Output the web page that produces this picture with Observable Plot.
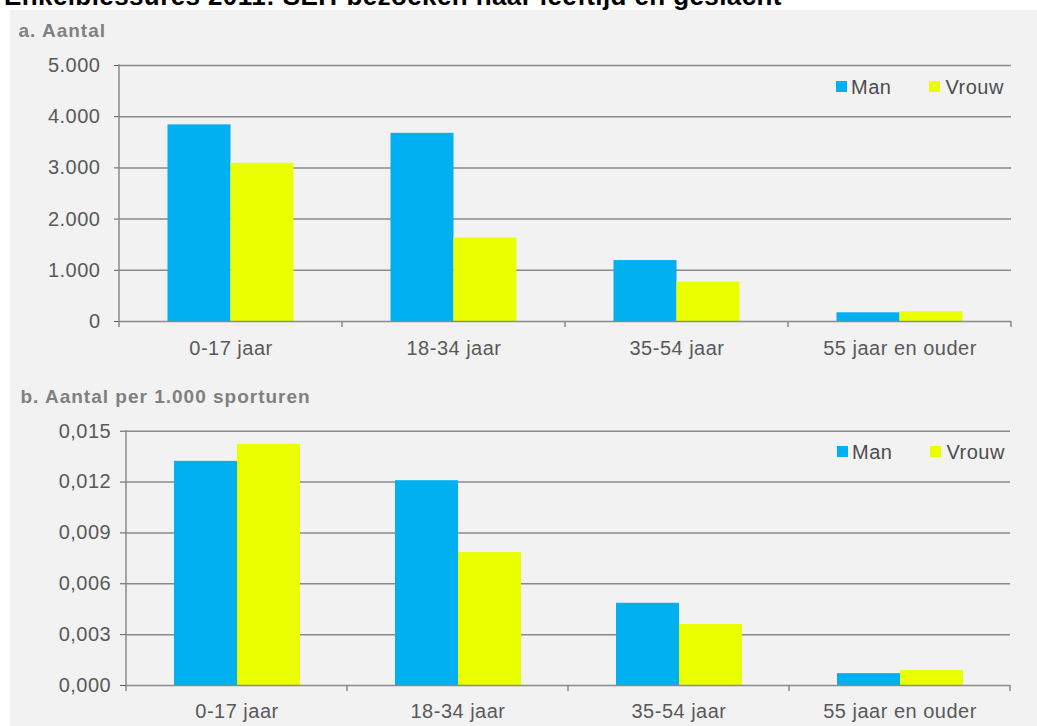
<!DOCTYPE html>
<html>
<head>
<meta charset="utf-8">
<script src="https://cdn.jsdelivr.net/npm/d3@7"></script>
<script src="https://cdn.jsdelivr.net/npm/@observablehq/plot@0.6"></script>
<style>
  html, body { margin: 0; padding: 0; background: #ffffff; }
  body { width: 1037px; height: 726px; position: relative; overflow: hidden;
         font-family: "Liberation Sans", Arial, sans-serif; }
  #title { position: absolute; left: 4px; top: -17px; font-size: 26px; line-height: 26px;
           font-weight: bold; color: #000; letter-spacing: 0.4px; white-space: nowrap; }
  #panel { position: absolute; left: 10px; top: 10px; right: 0; bottom: 0; background: #f2f2f2; }
  .head { position: absolute; font-size: 19px; line-height: 19px; font-weight: bold;
          color: #808080; letter-spacing: 1px; white-space: nowrap; }
  .chart { position: absolute; left: 0; }
  .chart svg text { letter-spacing: 0.5px; }
  .chart g[aria-label="y-axis tick"] { stroke: #8a8a8a; }
  .legend { position: absolute; display: flex; align-items: center; height: 20px;
            font-size: 20px; line-height: 20px; color: #4d4d4d; letter-spacing: 0.5px; }
  .legend .sw { display: inline-block; width: 11px; height: 11px; margin-right: 4px; }
  .legend .item { display: flex; align-items: center; }
</style>
</head>
<body>
<div id="title">Enkelblessures 2011: SEH-bezoeken naar leeftijd en geslacht</div>
<div id="panel"></div>
<div class="head" style="left:18.5px; top:21px;">a. Aantal</div>
<div class="chart" id="chartA" style="top:45px;"></div>
<div class="legend" id="legendA" style="left:836px; top:76.5px;"></div>
<div class="head" style="left:20.5px; top:387px;">b. Aantal per 1.000 sporturen</div>
<div class="chart" id="chartB" style="top:410px;"></div>
<div class="legend" id="legendB" style="left:837px; top:441.7px;"></div>
<script>
// Age groups and sexes
const ageGroups = ["0-17 jaar", "18-34 jaar", "35-54 jaar", "55 jaar en ouder"];
const sexes = ["Man", "Vrouw"];
const sexColors = ["#00b0f0", "#eaff00"];

// a. Number of emergency department visits
const countMan = [3840, 3675, 1190, 170];
const countVrouw = [3090, 1630, 770, 190];
const countTicks = [0, 1000, 2000, 3000, 4000, 5000];

// b. Visits per 1,000 hours of sport
const rateMan = [0.01322, 0.01208, 0.00485, 0.0007];
const rateVrouw = [0.01422, 0.00784, 0.0036, 0.00088];
const rateTicks = [0, 0.003, 0.006, 0.009, 0.012, 0.015];

// Dutch number formatting: "." for thousands, "," for decimals
const nl = d3.formatLocale({decimal: ",", thousands: ".", grouping: [3], currency: ["€", ""]});

const toRows = (man, vrouw) => ageGroups.flatMap((age, i) => [
  {age, sex: "Man", value: man[i]},
  {age, sex: "Vrouw", value: vrouw[i]}
]);

const gridColor = "#8a8a8a";

// Left axis line plus the short ticks under the baseline at each category boundary
function categoryFrame(len) {
  return Plot.frame({
    facet: "super",
    render(index, scales, values, dims) {
      const {width, height, marginLeft, marginRight, marginTop, marginBottom} = dims;
      const fx = scales.fx;
      let edges;
      if (fx && typeof fx.bandwidth === "function") {
        edges = fx.domain().map((d) => fx(d));
        edges.push(edges[edges.length - 1] + fx.bandwidth());
      } else {
        const n = ageGroups.length, w = (width - marginLeft - marginRight) / n;
        edges = d3.range(n + 1).map((i) => marginLeft + i * w);
      }
      const base = height - marginBottom;
      const g = d3.create("svg:g").attr("stroke", gridColor).attr("stroke-width", 1.5);
      g.append("line").attr("x1", edges[0]).attr("x2", edges[0])
        .attr("y1", marginTop - 0.75).attr("y2", base + len);
      for (const e of edges.slice(1)) {
        g.append("line").attr("x1", e).attr("x2", e).attr("y1", base).attr("y2", base + len);
      }
      return g.node();
    }
  });
}

function panel(opts) {
  const data = toRows(opts.man, opts.vrouw);
  return Plot.plot({
    width: 1037,
    height: opts.height,
    marginTop: opts.marginTop,
    marginBottom: opts.marginBottom,
    marginLeft: opts.marginLeft,
    marginRight: opts.marginRight,
    style: {
      background: "transparent",
      fontSize: "20px",
      fontFamily: "'Liberation Sans', Arial, sans-serif",
      color: "#595959",
      overflow: "visible"
    },
    fx: {domain: ageGroups, padding: 0, axis: "bottom", tickSize: 0,
         tickPadding: opts.labelPadding, label: null},
    x: {domain: sexes, paddingInner: 0, paddingOuter: 0.75, axis: null},
    y: {domain: [opts.ticks[0], opts.ticks[opts.ticks.length - 1]], ticks: opts.ticks,
        tickFormat: opts.format, tickSize: opts.tickSize, tickPadding: opts.tickPadding, label: null},
    color: {domain: sexes, range: sexColors},
    marks: [
      Plot.ruleY(opts.ticks.slice(1), {stroke: gridColor, strokeWidth: 1.5}),
      Plot.barY(data, {fx: "age", x: "sex", y: "value", fill: "sex"}),
      Plot.ruleY([0], {stroke: gridColor, strokeWidth: 1.5}),
      categoryFrame(6)
    ]
  });
}

function legend(el) {
  sexes.forEach((s, i) => {
    const item = document.createElement("span");
    item.className = "item";
    if (i > 0) item.style.marginLeft = "38px";
    const sw = document.createElement("span");
    sw.className = "sw";
    sw.style.background = sexColors[i];
    if (i > 0) sw.style.marginRight = "5px";
    item.appendChild(sw);
    item.appendChild(document.createTextNode(s));
    el.appendChild(item);
  });
}

document.getElementById("chartA").appendChild(panel({
  man: countMan, vrouw: countVrouw, ticks: countTicks, format: nl.format(",d"),
  height: 320, marginTop: 20, marginBottom: 44, marginLeft: 118.5, marginRight: 25.3,
  tickSize: 5, tickPadding: 14, labelPadding: 18.8
}));
document.getElementById("chartB").appendChild(panel({
  man: rateMan, vrouw: rateVrouw, ticks: rateTicks, format: nl.format(".3f"),
  height: 316, marginTop: 20.7, marginBottom: 41, marginLeft: 125, marginRight: 27,
  tickSize: 6, tickPadding: 9.3, labelPadding: 17.8
}));
legend(document.getElementById("legendA"));
legend(document.getElementById("legendB"));
</script>
</body>
</html>
